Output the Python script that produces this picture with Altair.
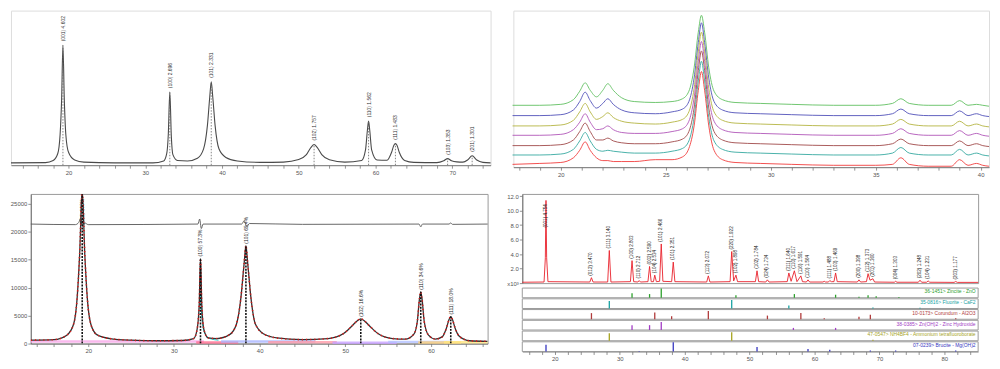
import altair as alt
import pandas as pd

FONT = "Liberation Sans"

# ---------------- Top-left : single XRD pattern ----------------
tl_x = [12.5, 17.0, 18.0, 18.6, 18.9, 19.1, 19.27, 19.45, 19.65, 20.0,
        20.8, 22.0, 26.0, 31.0, 32.4, 32.8, 33.0, 33.2, 33.4, 33.6,
        34.2, 35.5, 36.8, 37.6, 38.1, 38.4, 38.6, 38.8, 39.1, 39.6,
        40.5, 42.0, 45.0, 48.0, 50.0, 51.0, 51.6, 52.0, 52.4, 53.0,
        54.0, 56.0, 58.2, 58.7, 58.95, 59.1, 59.25, 59.5, 60.2, 61.5,
        62.1, 62.4, 62.6, 62.8, 63.1, 63.8, 65.0, 68.0, 68.9, 69.4,
        69.9, 70.6, 71.4, 72.0, 72.6, 73.2, 74.0, 75.0]
tl_y = [100, 110, 200, 500, 1300, 2800, 5120, 2800, 1300, 550,
        220, 130, 100, 100, 180, 500, 1300, 3120, 1200, 450,
        200, 180, 300, 700, 1700, 2900, 3560, 2900, 1700, 700,
        330, 180, 120, 130, 240, 450, 760, 880, 760, 450,
        230, 130, 200, 650, 1500, 1880, 1500, 650, 220, 210,
        550, 850, 920, 850, 550, 200, 120, 110, 190, 280,
        190, 140, 130, 220, 400, 220, 120, 100]
tl_px = [19.27, 33.2, 38.6, 52.0, 59.1, 62.6, 69.4, 72.6]
tl_py = [5120, 3120, 3560, 880, 1880, 920, 280, 400]
tl_lt = ["(001) 4.602", "(100) 2.696", "(101) 2.331", "(102) 1.757",
         "(110) 1.562", "(111) 1.483", "(103) 1.353", "(201) 1.301"]
tl_ticks = list(range(14, 76, 2))

# ---------------- Top-right : 7 stacked patterns ----------------
tr_x = [17.7, 19.0, 20.0, 20.6, 20.9, 21.16, 21.4, 21.7, 22.0, 22.24,
        22.5, 22.9, 23.5, 24.5, 25.3, 25.8, 26.1, 26.35, 26.55, 26.7,
        26.85, 27.05, 27.3, 27.7, 28.3, 29.5, 31.0, 33.0, 35.0, 35.8,
        36.2, 36.6, 37.5, 38.6, 39.0, 39.4, 39.8, 40.1, 40.4]
tr_green = [66, 66, 67, 72, 81, 90, 82, 75, 82, 89, 82, 74, 70, 69, 70, 73, 81, 106, 144, 162,
            144, 106, 81, 72, 69, 68, 67, 66, 66, 68, 73, 68, 66, 66, 71, 66, 67, 66, 65]
tr_blue = [55, 55, 56, 61, 70, 80, 71, 63, 68, 73, 67, 61, 58, 57, 59, 62, 70, 95, 133, 154,
           133, 95, 70, 61, 58, 57, 56, 55, 55, 57, 62, 57, 55, 55, 60, 55, 57, 55, 54]
tr_olive = [44, 44, 45, 50, 59, 68, 59, 51, 54, 58, 53, 49, 47, 46, 48, 51, 59, 84, 123, 144,
            123, 84, 59, 50, 47, 46, 45, 44, 44, 46, 51, 46, 44, 44, 49, 44, 46, 44, 43]
tr_purple = [34, 34, 35, 40, 48, 57, 48, 40, 41, 44, 40, 37, 36, 36, 38, 41, 49, 74, 113, 134,
             113, 74, 49, 40, 37, 36, 35, 34, 34, 36, 41, 36, 34, 34, 39, 34, 36, 34, 33]
tr_brown = [23, 23, 24, 29, 38, 47, 38, 29, 29, 31, 28, 26, 25, 25, 27, 30, 38, 63, 103, 124,
            103, 63, 38, 29, 26, 25, 24, 23, 23, 25, 30, 25, 23, 23, 28, 23, 25, 23, 22]
tr_teal = [13, 13, 14, 19, 28, 37, 28, 19, 17, 18, 17, 16, 15, 15, 17, 20, 28, 53, 92, 113,
           92, 53, 28, 19, 16, 15, 14, 13, 13, 15, 21, 15, 13, 13, 19, 13, 15, 13, 12]
tr_red = [3, 4, 5, 10, 18, 27, 18, 10, 7, 7, 6, 6, 6, 8, 8, 11, 20, 44, 82, 102,
          82, 44, 18, 8, 5, 4, 3, 2, 2, 3, 10, 3, 1, 1, 8, 2, 4, 2, 1]
tr_names = ["s1", "s2", "s3", "s4", "s5", "s6", "s7"]
tr_colors = ["#5fbf5f", "#5050b8", "#b4b440", "#b055b8", "#a04848", "#35a8a0", "#f03c3c"]
tr_ticks = list(range(18, 41, 1))

# ---------------- Bottom-left : refinement plot ----------------
bl_x = [13.3, 16.0, 17.5, 18.3, 18.7, 19.0, 19.3, 19.6, 19.9, 20.3,
        21.0, 22.5, 25.0, 28.0, 31.0, 32.3, 32.7, 32.95, 33.1, 33.25,
        33.5, 34.0, 35.0, 36.5, 37.3, 37.8, 38.2, 38.4, 38.6, 39.0,
        39.5, 40.5, 42.0, 45.0, 48.0, 49.8, 50.8, 51.4, 51.8, 52.2,
        52.8, 53.8, 55.5, 57.0, 58.0, 58.4, 58.65, 58.8, 58.95, 59.2,
        59.7, 60.5, 61.3, 61.8, 62.1, 62.3, 62.5, 62.8, 63.3, 64.5, 66.6]
bl_y = [600, 700, 1500, 3500, 8000, 16000, 27500, 16000, 8000, 3500,
        1600, 900, 600, 500, 550, 900, 2500, 7000, 15240, 7000,
        2500, 1000, 900, 1600, 3500, 8000, 14500, 17530, 14500, 8000,
        3500, 1700, 1000, 700, 900, 1800, 3200, 4100, 4440, 4100,
        3200, 1800, 900, 800, 1700, 4000, 8000, 9270, 8000, 4000,
        1500, 800, 1200, 2800, 4300, 4830, 4300, 2800, 1300, 500, 400]
bl_dx = [13.3, 18.5, 18.9, 19.1, 19.35, 19.6, 20.0, 32.8, 33.0, 33.2, 33.4, 37.9,
         38.2, 38.5, 38.8, 45.0, 58.6, 58.8, 59.0, 62.1, 62.3, 62.5, 66.6]
bl_dy = [21400, 21300, 21700, 22400, 20900, 21600, 21300, 21400, 22300, 20600, 21400, 21400,
         22000, 20900, 21500, 21350, 21400, 20900, 21400, 21400, 21600, 21350, 21400]
bl_cx = [33.1, 33.3, 33.6, 34.2, 35.2]
bl_cy = [9000, 4000, 1800, 900, 600]
bl_seg_x1 = [13.3, 32.6, 35.5, 41.0, 48.5, 55.0, 58.5, 61.5]
bl_seg_x2 = [33.5, 37.5, 46.5, 49.0, 56.0, 62.5, 63.5, 66.6]
bl_seg_y = [350, 200, 380, 250, 150, 300, 200, 250]
bl_seg_c = ["#f7a8e8", "#ff6b8f", "#a9b4ff", "#ff9aa8", "#c7a0ff", "#b3c0ff", "#ffd27a", "#ffe680"]
bl_px = [19.3, 33.1, 38.4, 51.8, 58.8, 62.3]
bl_py = [26800, 15240, 17530, 4440, 9270, 4830]
bl_ly = [21000, 15240, 17530, 4440, 9270, 4830]
bl_lt = ["(001) 100%", "(100) 57.3%", "(101) 65.4%", "(102) 16.6%", "(110) 34.6%", "(111) 18.0%"]
bl_ticks = list(range(14, 67, 2))
bl_yticks = [0, 5000, 10000, 15000, 20000, 25000]

# ---------------- Bottom-right : pattern + reference sticks ----------------
br_x = [15.0,
        18.35, 18.55, 18.65, 18.75, 18.95,
        25.4, 25.65, 25.9,
        28.15, 28.4, 28.65,
        31.65, 31.9, 32.15,
        32.8, 33.0, 33.2,
        34.35, 34.6, 34.85,
        35.2, 35.4, 35.65,
        36.15, 36.4, 36.65,
        38.0, 38.25, 38.5,
        43.4, 43.65, 43.9,
        47.0, 47.25, 47.55, 47.9, 48.15,
        50.9, 51.15, 51.4,
        52.5, 52.75, 53.0,
        55.8, 56.05, 56.4, 56.9, 57.3, 57.9, 58.15,
        58.75, 59.0, 59.25,
        61.3, 61.5, 61.7,
        62.15, 62.35, 62.6, 63.0, 63.25, 63.5,
        66.6, 66.85, 67.1,
        68.0, 68.25, 68.55, 69.0, 69.25,
        72.3, 72.5, 72.7,
        76.0, 76.25, 76.5,
        77.25, 77.5, 77.75,
        81.5, 81.75, 82.0,
        85.2]
br_y = [0.12,
        0.15, 3.5, 11.4, 3.5, 0.2,
        0.15, 0.75, 0.15,
        0.15, 4.5, 0.15,
        0.2, 3.1, 0.2,
        0.15, 0.35, 0.15,
        0.2, 2.3, 0.2,
        0.2, 1.1, 0.2,
        0.25, 5.4, 0.25,
        0.2, 2.9, 0.2,
        0.15, 1.0, 0.15,
        0.2, 4.35, 0.3, 1.1, 0.2,
        0.2, 1.7, 0.2,
        0.15, 0.45, 0.15,
        0.2, 1.4, 0.25, 1.7, 0.2, 1.0, 0.2,
        0.15, 0.45, 0.15,
        0.15, 0.25, 0.15,
        0.15, 0.35, 0.2, 0.2, 1.4, 0.2,
        0.15, 0.45, 0.15,
        0.2, 1.3, 0.4, 0.6, 0.15,
        0.12, 0.25, 0.12,
        0.12, 0.4, 0.12,
        0.12, 0.3, 0.12,
        0.1, 0.22, 0.1,
        0.1]
br_lx = [18.65, 25.65, 28.4, 31.9, 33.0, 34.6, 35.4, 36.4, 38.25, 43.65,
         47.25, 47.9, 51.15, 52.75, 56.05, 56.9, 57.9, 59.0, 62.35, 63.25,
         66.85, 68.25, 69.0, 72.5, 76.25, 77.5, 81.75]
br_ly = [7.4, 0.75, 4.5, 3.1, 0.35, 2.3, 1.1, 5.4, 2.9, 1.0,
         4.35, 1.1, 1.7, 0.45, 1.4, 1.7, 1.0, 0.45, 0.35, 1.4,
         0.45, 1.3, 0.6, 0.25, 0.4, 0.3, 0.22]
br_lt = ["(001) 4.754", "(012) 3.470", "(111) 3.140", "(100) 2.803", "(110) 2.712",
         "(002) 2.590", "(104) 2.534", "(101) 2.466", "(101) 2.351", "(113) 2.072",
         "(220) 1.922", "(102) 1.898", "(102) 1.784", "(024) 1.734", "(311) 1.640",
         "(110) 1.617", "(116) 1.591", "(110) 1.564", "(111) 1.488", "(103) 1.469",
         "(200) 1.398", "(112) 1.373", "(201) 1.360", "(004) 1.303", "(202) 1.248",
         "(104) 1.231", "(203) 1.177"]
br_ticks = list(range(16, 86, 2))
br_yticks = [0, 2, 4, 6, 8, 10, 12]

zno_x = [31.9, 34.6, 36.4, 47.9, 56.9, 63.25, 66.85, 68.25, 69.5, 73.0]
zno_h = [50, 40, 100, 27, 40, 33, 10, 27, 17, 7]
caf2_x = [28.4, 47.25, 56.05, 69.0, 76.25]
caf2_h = [83, 93, 33, 10, 7]
al2o3_x = [25.65, 35.4, 38.0, 43.65, 52.75, 57.9, 61.5, 66.85, 68.6, 81.75]
al2o3_h = [67, 73, 33, 90, 40, 67, 10, 27, 50, 10]
znoh_x = [31.9, 34.6, 36.4, 56.75, 63.25]
znoh_h = [53, 53, 87, 23, 23]
nh4_x = [28.4, 47.25, 69.0]
nh4_h = [83, 93, 10]
mgoh_x = [18.65, 33.0, 38.25, 51.15, 59.0, 62.35, 68.6, 72.5, 81.75]
mgoh_h = [73, 5, 100, 50, 27, 20, 10, 10, 10]
phase_names = ["36-1451> Zincite - ZnO", "35-0816> Fluorite - CaF2",
               "10-0173> Corundum - Al2O3", "38-0385> Zn(OH)2 - Zinc Hydroxide",
               "47-0547> NH4BF4 - Ammonium tetrafluoroborate", "07-0239> Brucite - Mg(OH)2"]
phase_colors = ["#2ca02c", "#17a2a2", "#b03a3a", "#a23cc4", "#a6a31e", "#3535c0"]

# ---------------- helpers ----------------
AXIS = dict(title=None, grid=False, labelFont=FONT, labelFontSize=6, labelColor="#555555",
            domainColor="#777777", tickColor="#777777", tickSize=3, tickWidth=0.8,
            domainWidth=1, labelPadding=1, labelOverlap=False, labelFlush=False)


def xe(field, domain, ticks=None, every=10, show=True):
    sc = alt.Scale(domain=domain, nice=False, zero=False)
    if show:
        ax = alt.Axis(values=ticks,
                      labelExpr=f"datum.value % {every} == 0 ? format(datum.value, 'd') : ''",
                      **AXIS)
        return alt.X(f"{field}:Q", scale=sc, axis=ax)
    return alt.X(f"{field}:Q", scale=sc, axis=None)


def ye(field, domain, axis=None):
    sc = alt.Scale(domain=domain, nice=False, zero=False)
    if axis is None:
        return alt.Y(f"{field}:Q", scale=sc, axis=None)
    return alt.Y(f"{field}:Q", scale=sc, axis=axis)


FRAME = alt.ViewBackground(stroke="#9a9a9a", strokeWidth=1)
NOFRAME = alt.ViewBackground(stroke="transparent")

# ---------------- Top-left chart ----------------
TLD = [12.5, 75.0]
TLY = [0, 6600]
tl_df = pd.DataFrame({"x": tl_x, "y": tl_y})
tl_pk = pd.DataFrame({"x": tl_px, "y": tl_py, "t": tl_lt})
tl_pk["y0"] = 0
tl_line = alt.Chart(tl_df).mark_line(color="#4a4a4a", strokeWidth=1.1, interpolate="monotone").encode(
    x=xe("x", TLD, tl_ticks, 10), y=ye("y", TLY))
tl_rule = alt.Chart(tl_pk).mark_rule(color="#666666", strokeDash=[1.5, 1.5], strokeWidth=0.8).encode(
    x=xe("x", TLD, tl_ticks, 10), y=ye("y0", TLY), y2=alt.Y2("y"))
tl_text = alt.Chart(tl_pk).mark_text(angle=270, align="left", baseline="middle", dx=4,
                                     fontSize=5, font=FONT, color="#333333").encode(
    x=xe("x", TLD, tl_ticks, 10), y=ye("y", TLY), text="t:N")
tl = alt.layer(tl_line, tl_rule, tl_text).properties(width=484, height=156)

# ---------------- Top-right chart ----------------
TRD = [17.74, 40.4]
tr_series = [tr_green, tr_blue, tr_olive, tr_purple, tr_brown, tr_teal, tr_red]
rows = []
for name, col, ys in zip(tr_names, tr_colors, tr_series):
    for xv, yv in zip(tr_x, ys):
        rows.append({"x": xv, "y": yv, "s": name, "c": col})
tr_df = pd.DataFrame(rows)
tr = alt.Chart(tr_df).mark_line(strokeWidth=1, opacity=0.9, interpolate="monotone").encode(
    x=xe("x", TRD, tr_ticks, 5), y=ye("y", [0, 167]),
    color=alt.Color("c:N", scale=None),
    detail="s:N").properties(width=480, height=158)

# ---------------- Bottom-left chart ----------------
BLD = [13.3, 66.6]
BLY = [0, 26800]
bl_yaxis = alt.Axis(values=bl_yticks, format="d", **AXIS)
bl_df = pd.DataFrame({"x": bl_x, "y": bl_y})
bl_diff = pd.DataFrame({"x": bl_dx, "y": bl_dy})
bl_cyan = pd.DataFrame({"x": bl_cx, "y": bl_cy})
bl_seg = pd.DataFrame({"x": bl_seg_x1, "x2": bl_seg_x2, "y": bl_seg_y, "c": bl_seg_c})
bl_pk = pd.DataFrame({"x": bl_px, "y": bl_py, "ly": bl_ly, "t": bl_lt})
bl_pk["y0"] = 0

bl_l1 = alt.Chart(bl_seg).mark_rule(strokeWidth=2.5, opacity=0.8).encode(
    x=xe("x", BLD, bl_ticks, 10), x2=alt.X2("x2"), y=ye("y", BLY, bl_yaxis),
    color=alt.Color("c:N", scale=None))
bl_l2 = alt.Chart(bl_cyan).mark_line(color="#2ad0d0", strokeWidth=1, interpolate="monotone").encode(
    x=xe("x", BLD, bl_ticks, 10), y=ye("y", BLY, bl_yaxis))
bl_l3 = alt.Chart(bl_df).mark_line(color="#333333", strokeWidth=1.3, clip=True, interpolate="monotone").encode(
    x=xe("x", BLD, bl_ticks, 10), y=ye("y", BLY, bl_yaxis))
bl_l4 = alt.Chart(bl_df).mark_line(color="#e01818", strokeWidth=1.6, strokeDash=[1.2, 3], clip=True,
                                   interpolate="monotone").encode(
    x=xe("x", BLD, bl_ticks, 10), y=ye("y", BLY, bl_yaxis))
bl_l5 = alt.Chart(bl_diff).mark_line(color="#555555", strokeWidth=0.9, interpolate="monotone").encode(
    x=xe("x", BLD, bl_ticks, 10), y=ye("y", BLY, bl_yaxis))
bl_l6 = alt.Chart(bl_pk).mark_rule(color="#111111", strokeDash=[2, 1.2], strokeWidth=1.6, clip=True).encode(
    x=xe("x", BLD, bl_ticks, 10), y=ye("y0", BLY, bl_yaxis), y2=alt.Y2("y"))
bl_l7 = alt.Chart(bl_pk).mark_text(angle=270, align="left", baseline="middle", dx=2, fontSize=5,
                                   font=FONT, color="#222222").encode(
    x=xe("x", BLD, bl_ticks, 10), y=ye("ly", BLY, bl_yaxis), text="t:N")
bl = alt.layer(bl_l1, bl_l2, bl_l3, bl_l4, bl_l5, bl_l6, bl_l7).properties(
    width=461, height=151, view=FRAME)

# ---------------- Bottom-right chart ----------------
BRD = [15.0, 85.2]
BRY = [0, 12.3]
br_yaxis = alt.Axis(values=br_yticks,
                    labelExpr="datum.value == 0 ? 'x10\u00b3' : format(datum.value, '.1f')", **AXIS)
br_df = pd.DataFrame({"x": br_x, "y": br_y})
br_lab = pd.DataFrame({"x": br_lx, "y": br_ly, "t": br_lt})
br_line = alt.Chart(br_df).mark_line(color="#e8202a", strokeWidth=0.9).encode(
    x=xe("x", BRD, show=False), y=ye("y", BRY, br_yaxis))
br_text = alt.Chart(br_lab).mark_text(angle=270, align="left", baseline="middle", dx=2, fontSize=4.6,
                                      font=FONT, color="#222222").encode(
    x=xe("x", BRD, show=False), y=ye("y", BRY, br_yaxis), text="t:N")
br_main = alt.layer(br_line, br_text).properties(width=460, height=90, view=FRAME)

# reference-pattern sticks, six stacked strips in one chart
phase_x = [zno_x, caf2_x, al2o3_x, znoh_x, nh4_x, mgoh_x]
phase_h = [zno_h, caf2_h, al2o3_h, znoh_h, nh4_h, mgoh_h]
srows = []
for p, (xs, hs) in enumerate(zip(phase_x, phase_h)):
    for xv, hv in zip(xs, hs):
        srows.append({"p": p, "c": phase_colors[p], "x": xv, "h": hv})
st_df = pd.DataFrame(srows)
pn_df = pd.DataFrame({"p": list(range(len(phase_names))), "t": phase_names, "c": phase_colors})
SY = [0, 5.9]
pcol = alt.Color("c:N", scale=None)
st_frames = alt.Chart(pn_df).transform_calculate(
    yb="5 - datum.p", yt="5.9 - datum.p", xa="15", xb="85.2").mark_rect(
    fillOpacity=0, stroke="#9a9a9a", strokeWidth=1).encode(
    x=xe("xa", BRD, br_ticks, 10), x2=alt.X2("xb"), y=ye("yb", SY), y2=alt.Y2("yt"))
st_rules = alt.Chart(st_df).transform_calculate(
    yb="5 - datum.p", yt="5 - datum.p + datum.h * 0.0085").mark_rule(strokeWidth=1.3).encode(
    x=xe("x", BRD, br_ticks, 10), y=ye("yb", SY), y2=alt.Y2("yt"), color=pcol)
st_text = alt.Chart(pn_df).transform_calculate(
    ty="5.6 - datum.p", tx="84.8").mark_text(
    align="right", baseline="middle", fontSize=5, font=FONT).encode(
    x=xe("tx", BRD, br_ticks, 10), y=ye("ty", SY), text="t:N", color=pcol)
br_sticks = alt.layer(st_frames, st_rules, st_text).properties(width=460, height=64, view=NOFRAME)

br = alt.vconcat(br_main, br_sticks, spacing=0)

# an empty 1px spacer: the bottom row is shifted so its y-axis labels sit left of the plots
spacer = alt.Chart(pd.DataFrame({"a": pd.Series([], dtype="float")})).mark_point(opacity=0).encode(
    x=alt.X("a:Q", axis=None), y=alt.Y("a:Q", axis=None)).properties(width=1, height=1, view=NOFRAME)

top = alt.hconcat(tl, tr, spacing=16)
bottom = alt.hconcat(spacer, alt.hconcat(bl, br, spacing=15), spacing=19, bounds="flush")
chart = alt.concat(top, bottom, columns=1, align="none", spacing=14).properties(
    padding={"left": 0, "top": 0, "right": 0, "bottom": 0}
).configure_view(stroke="transparent").configure(font=FONT)

chart.save("out.html", embed_options={"renderer": "svg", "actions": False})
